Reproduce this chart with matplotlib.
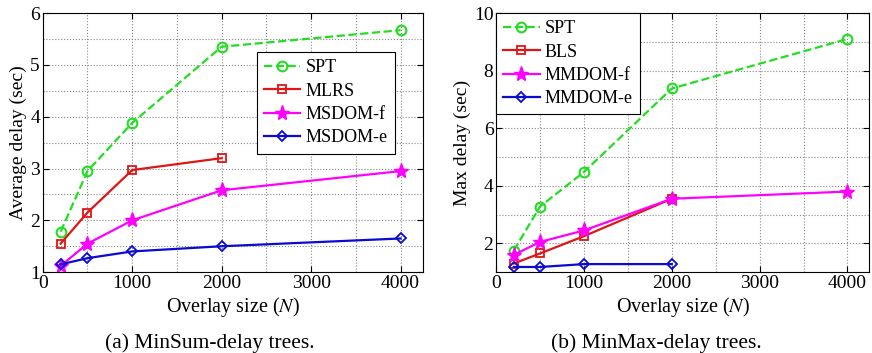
import matplotlib
matplotlib.use("Agg")
import matplotlib.pyplot as plt
from matplotlib.ticker import MultipleLocator

plt.rcParams['font.family'] = ['Liberation Serif', 'DejaVu Serif']
plt.rcParams['mathtext.fontset'] = 'stix'

# Data
x_full = [200, 500, 1000, 2000, 4000]
x_short = [200, 500, 1000, 2000]

# (a) MinSum-delay trees
a_spt = [1.78, 2.95, 3.88, 5.35, 5.67]
a_mlrs = [1.55, 2.15, 2.97, 3.20]
a_msdom_f = [1.12, 1.55, 2.00, 2.58, 2.95]
a_msdom_e = [1.15, 1.27, 1.40, 1.50, 1.65]

# (b) MinMax-delay trees
b_spt = [1.75, 3.28, 4.48, 7.38, 9.10]
b_bls = [1.30, 1.65, 2.25, 3.55]
b_mmdom_f = [1.60, 2.05, 2.45, 3.55, 3.80]
b_mmdom_e = [1.18, 1.18, 1.28, 1.28]

green = '#22dd22'
red = '#e01515'
magenta = '#ff00ff'
blue = '#0a0ad0'

fig = plt.figure(figsize=(8.72, 3.53), dpi=100)
axA = fig.add_axes([0.049, 0.229, 0.436, 0.734])
axB = fig.add_axes([0.569, 0.229, 0.428, 0.734])

def style(ax):
    ax.set_xlim(0, 4250)
    ax.xaxis.set_major_locator(MultipleLocator(1000))
    ax.xaxis.set_minor_locator(MultipleLocator(500))
    ax.grid(True, which='both', linestyle=':', color='#888888', linewidth=0.8)
    ax.tick_params(which='both', direction='in', top=True, right=True, labelsize=14, length=4, pad=2)
    ax.tick_params(which='minor', length=0)
    ax.set_xlabel('Overlay size ($N$)', fontsize=14.5, labelpad=2)
    for s in ax.spines.values():
        s.set_linewidth(0.8)

lw = 1.6
# (a)
axA.plot(x_full, a_spt, '--o', color=green, lw=lw, ms=7, mfc='none', mew=1.5, label='SPT')
axA.plot(x_short, a_mlrs, '-s', color=red, lw=lw, ms=6, mfc='none', mew=1.3, label='MLRS')
axA.plot(x_full, a_msdom_f, '-*', color=magenta, lw=lw, ms=11, label='MSDOM-f')
axA.plot(x_full, a_msdom_e, '-D', color=blue, lw=lw, ms=5.5, mfc='none', mew=1.3, label='MSDOM-e')
axA.set_ylim(1, 6)
axA.yaxis.set_major_locator(MultipleLocator(1))
axA.yaxis.set_minor_locator(MultipleLocator(0.5))
style(axA)
axA.set_ylabel('Average delay (sec)', fontsize=14, labelpad=2)
legA = axA.legend(loc='upper left', bbox_to_anchor=(0.563, 0.849), fontsize=13,
                  fancybox=False, edgecolor='black', framealpha=1, handlelength=2.0,
                  borderaxespad=0, labelspacing=0.35, handletextpad=0.3, borderpad=0.4)
legA.get_frame().set_linewidth(0.8)

# (b)
axB.plot(x_full, b_spt, '--o', color=green, lw=lw, ms=7, mfc='none', mew=1.5, label='SPT')
axB.plot(x_short, b_bls, '-s', color=red, lw=lw, ms=6, mfc='none', mew=1.3, label='BLS')
axB.plot(x_full, b_mmdom_f, '-*', color=magenta, lw=lw, ms=11, label='MMDOM-f')
axB.plot(x_short, b_mmdom_e, '-D', color=blue, lw=lw, ms=5.5, mfc='none', mew=1.3, label='MMDOM-e')
axB.set_ylim(1, 10)
axB.yaxis.set_major_locator(MultipleLocator(2))
axB.yaxis.set_minor_locator(MultipleLocator(1))
style(axB)
axB.set_ylabel('Max delay (sec)', fontsize=14, labelpad=2)
legB = axB.legend(loc='upper left', bbox_to_anchor=(0.0, 1.0), fontsize=13,
                  fancybox=False, edgecolor='black', framealpha=1, handlelength=2.0,
                  borderaxespad=0, labelspacing=0.35, handletextpad=0.3, borderpad=0.4)
legB.get_frame().set_linewidth(0.8)

fig.text(0.241, 0.028, '(a) MinSum-delay trees.', ha='center', va='center', fontsize=15.5)
fig.text(0.753, 0.028, '(b) MinMax-delay trees.', ha='center', va='center', fontsize=15.5)

fig.savefig('out.png', dpi=100)
